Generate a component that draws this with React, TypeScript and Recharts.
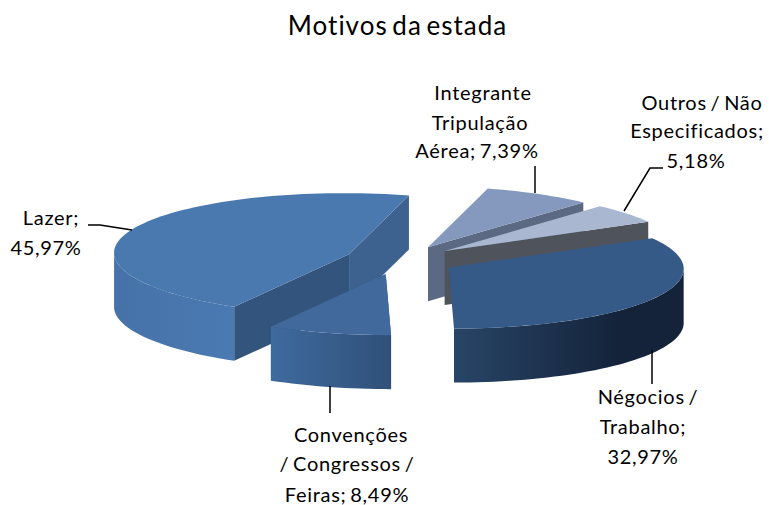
import React from "react";
import { PieChart, Pie } from "recharts";

// values, clockwise from the Lazer slice
const names = [
  "Lazer",
  "Integrante Tripulação Aérea",
  "Outros / Não Especificados",
  "Négocios / Trabalho",
  "Convenções / Congressos / Feiras",
];
const shares = [45.97, 7.39, 5.18, 32.97, 8.49];

const labelLines = [
  ["Lazer;", "45,97%"],
  ["Integrante", "Tripulação", "Aérea; 7,39%"],
  ["Outros / Não", "Especificados;", "5,18%"],
  ["Négocios /", "Trabalho;", "32,97%"],
  ["Convenções", "/ Congressos /", "Feiras; 8,49%"],
];

const tableData = names.map((name, i) => ({ name, value: shares[i], index: i }));

const SQUASH = 0.26;
const SHEAR = 0.09;
const DEPTH = 54;
const EXPLODE = 56;

const sliceStyles = [
  { top: "#4a79af", wallFrom: "#4672a8", wallTo: "#4a7ab2", x1: 114, x2: 233, startFace: "#33547c", endFace: "#3d628f" },
  { top: "#8499bd", wallFrom: "#5e6e86", wallTo: "#5e6e86", x1: 425, x2: 640, startFace: "#5e6e86", endFace: "#5b6a82" },
  { top: "#a9b7d1", wallFrom: "#4f535c", wallTo: "#4f535c", x1: 445, x2: 650, startFace: "#4f535c", endFace: "#4f535c" },
  { top: "#365a88", wallFrom: "#284567", wallTo: "#14233a", x1: 454, x2: 620, startFace: "#1c3049", endFace: "#1c3049" },
  { top: "#41699c", wallFrom: "#3f6a9e", wallTo: "#2f5078", x1: 272, x2: 393, startFace: "#2f5078", endFace: "#2f5078" },
];

// label text anchors (x, baseline per line) and leader lines, in chart pixels
const labelAnchors = [
  [[51, 225], [46, 255]],
  [[483, 100], [480, 130], [477, 158]],
  [[702, 110], [697, 138], [696, 168]],
  [[648, 404], [643, 434], [643, 464]],
  [[351, 442], [347, 471], [347, 502]],
];
const leaderLines = [
  "88,225 100,225 132,230",
  "535,166 535,193",
  "624,211 650,168 663,168",
  "652,350 652,384",
  "330,386 330,413",
];

const rad = (deg: number) => (deg * Math.PI) / 180;

const Slice3D = (props: any) => {
  const { cx, cy, outerRadius, startAngle, endAngle, midAngle, index } = props;
  const style = sliceStyles[index];
  const r = outerRadius;
  const ry = r * SQUASH;
  const ox = cx + EXPLODE * Math.cos(rad(midAngle));
  const oy = cy - EXPLODE * SQUASH * Math.sin(rad(midAngle));
  const pt = (a: number) => {
    const dy = -ry * Math.sin(rad(a));
    return [ox + r * Math.cos(rad(a)) + SHEAR * dy, oy + dy];
  };
  // rim from angle a to angle b as a list of points, shifted down by drop
  const rim = (a: number, b: number, drop = 0) => {
    const steps = Math.max(2, Math.ceil(Math.abs(a - b) / 2));
    const out: string[] = [];
    for (let i = 0; i <= steps; i++) {
      const [x, y] = pt(a + ((b - a) * i) / steps);
      out.push(`${x},${y + drop}`);
    }
    return out;
  };
  const hi = Math.max(startAngle, endAngle);
  const lo = Math.min(startAngle, endAngle);

  const face = (a: number, color: string) => {
    const [x, y] = pt(a);
    return (
      <path
        key={`face-${a}`}
        d={`M${ox},${oy} L${x},${y} L${x},${y + DEPTH} L${ox},${oy + DEPTH} Z`}
        fill={color}
      />
    );
  };

  // the curved wall only shows on the front half of the ellipse
  const walls = [];
  for (let n = -2; n <= 1; n++) {
    const a1 = Math.min(hi, 360 * n);
    const a2 = Math.max(lo, -180 + 360 * n);
    if (a1 <= a2) continue;
    walls.push(
      <polygon
        key={`wall-${n}`}
        points={[...rim(a1, a2), ...rim(a2, a1, DEPTH)].join(" ")}
        fill={`url(#wall-${index})`}
      />
    );
  }

  return (
    <g>
      <defs>
        <linearGradient
          id={`wall-${index}`}
          gradientUnits="userSpaceOnUse"
          x1={style.x1}
          x2={style.x2}
          y1={0}
          y2={0}
        >
          <stop offset="0%" stopColor={style.wallFrom} />
          <stop offset="100%" stopColor={style.wallTo} />
        </linearGradient>
      </defs>
      {Math.cos(rad(hi)) < 0 && face(hi, style.startFace)}
      {Math.cos(rad(lo)) > 0 && face(lo, style.endFace)}
      {walls}
      <polygon points={[`${ox},${oy}`, ...rim(hi, lo)].join(" ")} fill={style.top} />
    </g>
  );
};

const SliceLabel = (props: any) => {
  const i = props.index;
  return (
    <g>
      <polyline points={leaderLines[i]} fill="none" stroke="#000" strokeWidth={1.5} />
      {labelLines[i].map((line, n) => (
        <text
          key={line}
          x={labelAnchors[i][n][0]}
          y={labelAnchors[i][n][1]}
          textAnchor="middle"
          fontFamily="Lato"
          fontSize={20}
          letterSpacing={0.7}
          wordSpacing={-2}
          fill="#000"
        >
          {line}
        </text>
      ))}
    </g>
  );
};

export default function App() {
  return (
    <div style={{ position: "absolute", left: 0, top: 0, width: 769, height: 505, background: "#fff" }}>
      <PieChart width={769} height={505} margin={{ top: 0, right: 0, bottom: 0, left: 0 }}>
        <text
          x={397.5}
          y={35}
          textAnchor="middle"
          fontFamily="Lato"
          fontSize={26}
          letterSpacing={1}
          wordSpacing={-3}
          fill="#000"
        >
          Motivos da estada
        </text>
        <Pie
          data={tableData}
          dataKey="value"
          nameKey="name"
          cx={400.5}
          cy={260}
          outerRadius={235}
          innerRadius={0}
          startAngle={-120.6}
          endAngle={-480.6}
          stroke="none"
          shape={Slice3D}
          label={SliceLabel}
          labelLine={false}
          isAnimationActive={false}
        />
      </PieChart>
    </div>
  );
}
